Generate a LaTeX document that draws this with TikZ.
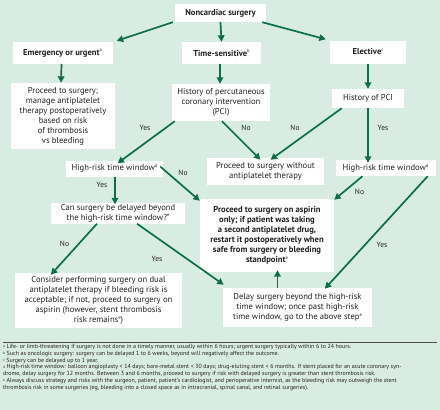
\documentclass[tikz,border=0pt]{standalone}
\usepackage{fontspec}
\setmainfont{PT Sans}
\usetikzlibrary{arrows.meta}
\definecolor{bggreen}{HTML}{D9ECE3}
\definecolor{arrgreen}{HTML}{0B7047}
\definecolor{txt}{HTML}{231F20}
\newcommand{\fn}[1]{\raisebox{3.2pt}{\mdseries\fontsize{4.6}{5}\selectfont #1}}
\newcommand{\fnn}[1]{\raisebox{0.9pt}{\fontsize{3.6}{4}\selectfont #1}}
\tikzset{
  box/.style={fill=white, draw=none, align=center, inner sep=0pt, text=txt,
    font=\fontsize{8.6}{10}\selectfont},
  bbox/.style={box, font=\fontsize{8.6}{10}\selectfont\bfseries},
  arr/.style={draw=arrgreen, line width=1.7pt, -{Triangle[length=6.5pt,width=6.5pt]}},
  lbl/.style={text=txt, font=\fontsize{7.5}{9}\selectfont, inner sep=0pt},
  fnote/.style={text=txt, font=\fontsize{5.95}{6.85}\selectfont, inner sep=0pt, align=left, anchor=north west}
}
\begin{document}
\begin{tikzpicture}[x=1pt,y=-1pt]
\fill[bggreen] (0,0) rectangle (440,410);
\useasboundingbox (0,0) rectangle (440,410);

\node[bbox, minimum width=91pt, minimum height=18pt] (n0) at (220.5,13) {Noncardiac surgery};
\node[bbox, minimum width=100pt, minimum height=22pt] (e1) at (62.5,53) {Emergency or urgent\fn{a}};
\node[bbox, minimum width=79pt, minimum height=22pt] (t1) at (221.5,53) {Time-sensitive\fn{b}};
\node[bbox, minimum width=76pt, minimum height=23pt] (el) at (368,52) {Elective\fn{c}};

\node[box, minimum width=104pt, minimum height=66pt] (p1) at (63,116) {Proceed to surgery;\\ manage antiplatelet\\ therapy postoperatively\\ based on risk\\ of thrombosis\\ vs bleeding};
\node[box, minimum width=98pt, minimum height=37pt] (h1) at (221,102.5) {History of percutaneous\\ coronary intervention\\ (PCI)};
\node[box, minimum width=72pt, minimum height=19pt] (h2) at (368,98.5) {History of PCI};

\node[box, minimum width=97pt, minimum height=16pt] (r1) at (114.5,168.5) {High-risk time window\fn{d}};
\node[box, minimum width=117pt, minimum height=27pt] (pw) at (265.5,171.5) {Proceed to surgery without\\ antiplatelet therapy};
\node[box, minimum width=100pt, minimum height=16pt] (r2) at (385.5,168) {High-risk time window\fn{d}};

\node[box, minimum width=134pt, minimum height=21pt] (cs) at (118,213) {Can surgery be delayed beyond\\ the high-risk time window?\fn{e}};
\node[bbox, minimum width=134pt, minimum height=73pt] (pa) at (267,235.5) {Proceed to surgery on aspirin\\ only; if patient was taking\\ a second antiplatelet drug,\\ restart it postoperatively when\\ safe from surgery or bleeding\\ standpoint\fn{e}};
\node[box, minimum width=167pt, minimum height=55pt] (co) at (98.5,300.5) {Consider performing surgery on dual\\ antiplatelet therapy if bleeding risk is\\ acceptable; if not, proceed to surgery on\\ aspirin (however, stent thrombosis\\ risk remains\fn{e})};
\node[box, minimum width=149pt, minimum height=39pt] (de) at (297.5,307.5) {Delay surgery beyond the high-risk\\ time window; once past high-risk\\ time window, go to the above step\fn{e}};

% connectors
\draw[arr] ([xshift=-2pt]n0.south west) -- ([xshift=4pt,yshift=1pt]e1.north east);
\draw[arr] (n0.south) -- (t1.north);
\draw[arr] ([xshift=-4pt]n0.south east) -- ([xshift=-4pt,yshift=1pt]el.north west);
\draw[arr] ([xshift=-1pt]e1.south) -- ([xshift=-2pt]p1.north);
\draw[arr] ([xshift=-1.5pt]t1.south) -- ([xshift=-1pt]h1.north);
\draw[arr] (el.south) -- (h2.north);

\draw[arr] ([xshift=3pt]h1.south west) -- ([xshift=3pt,yshift=-3pt]r1.north);
\node[lbl] (y1) at (145,128) {Yes};
\draw[arr] ([xshift=1pt]h1.south) -- ([xshift=-5pt,yshift=-2pt]pw.north);
\node[lbl] (no1) at (246,128) {No};
\draw[arr] ([xshift=10pt]h2.south west) -- ([xshift=5pt,yshift=-2pt]pw.north);
\node[lbl] (no2) at (295,128) {No};
\draw[arr] (h2.south) -- ([xshift=-17.5pt,yshift=-3pt]r2.north);
\node[lbl] (y2) at (383,128) {Yes};

\draw[arr] ([xshift=-3pt,yshift=2pt]r1.east) -- ([xshift=0pt,yshift=-2pt]pa.north west);
\node[lbl] (no3) at (183,172.5) {No};
\draw[arr] ([xshift=0.5pt]r1.south) -- ([xshift=-3pt,yshift=-2pt]cs.north);
\node[lbl] (y3) at (102,185) {Yes};
\draw[arr] ([xshift=-23pt]r2.south) -- ([xshift=0pt,yshift=-1pt]pa.north east);
\node[lbl] (no4) at (359.5,192) {No};
\draw[arr] ([xshift=-8pt]r2.south east) -- ([xshift=102pt,yshift=-1pt]de.north west);
\node[lbl] (y4) at (382,244.5) {Yes};

\draw[arr] ([xshift=-21pt]cs.south) -- ([xshift=36pt,yshift=-2pt]co.north west);
\node[lbl] (no5) at (64.5,243.5) {No};
\draw[arr] ([xshift=19pt]cs.south) -- ([xshift=1pt,yshift=3pt]de.north west);
\node[lbl] (y5) at (157,259) {Yes};
\draw[arr] ([xshift=-20pt]de.north) -- ([xshift=10.5pt,yshift=2pt]pa.south);

% footnotes
\draw[line width=0.6pt, draw=txt!80] (3,342.5) -- (437,342.5);
\node[fnote] (fn) at (3,344) {%
\fnn{a} Life- or limb-threatening if surgery is not done in a timely manner, usually within 6 hours; urgent surgery typically within 6 to 24 hours.\\
\fnn{b} Such as oncologic surgery: surgery can be delayed 1 to 6 weeks, beyond will negatively affect the outcome.\\
\fnn{c} Surgery can be delayed up to 1 year.\\
\fnn{d} High-risk time window: balloon angioplasty < 14 days; bare-metal stent < 30 days; drug-eluting stent < 6 months. If stent placed for an acute coronary syn-\\
drome, delay surgery for 12 months. Between 3 and 6 months, proceed to surgery if risk with delayed surgery is greater than stent thrombosis risk.\\
\fnn{e} Always discuss strategy and risks with the surgeon, patient, patient’s cardiologist, and perioperative internist, as the bleeding risk may outweigh the stent\\
thrombosis risk in some surgeries (eg, bleeding into a closed space as in intracranial, spinal canal, and retinal surgeries).};
\end{tikzpicture}
\end{document}
